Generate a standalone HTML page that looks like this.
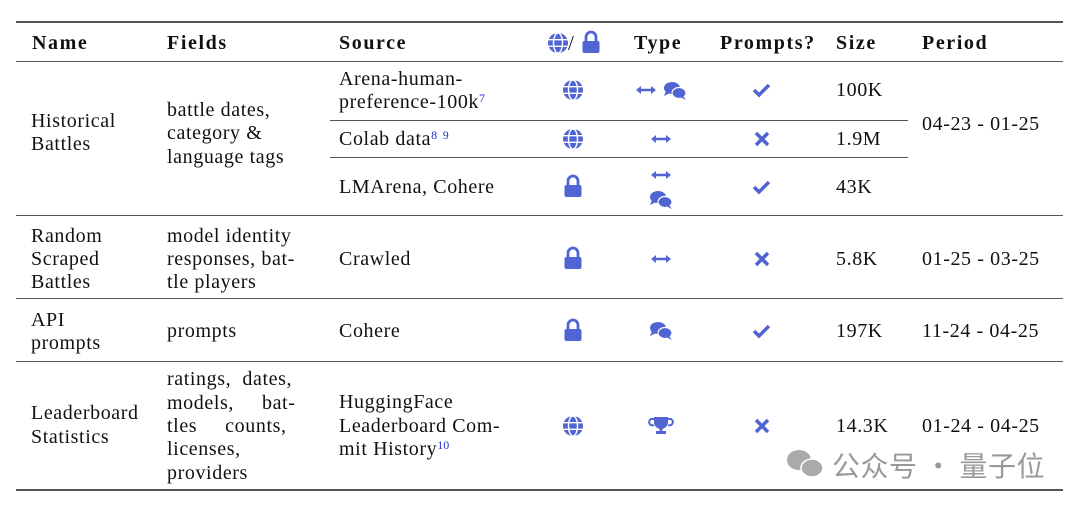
<!DOCTYPE html>
<html><head><meta charset="utf-8"><style>
body{margin:0;width:1080px;height:508px;background:#fff;position:relative;overflow:hidden;font-family:"Liberation Serif",serif;font-size:20px;letter-spacing:0.6px;color:#111}
.t{position:absolute;line-height:22px;white-space:nowrap}
.b{font-weight:bold;letter-spacing:1.6px}
.l{position:absolute;background:#555;height:1px}
sup{color:#2233cc;font-size:12px;vertical-align:6px;line-height:0;letter-spacing:0}
svg{position:absolute}
.wm{position:absolute;font-family:"Noto Sans CJK SC",sans-serif;color:#999;font-size:28px;letter-spacing:0.5px;left:832px;top:445px}
</style></head><body>
<div class="l" style="left:16px;width:1047px;top:21px;height:2px"></div>
<div class="l" style="left:16px;width:1047px;top:61px"></div>
<div class="l" style="left:330px;width:578px;top:120px"></div>
<div class="l" style="left:330px;width:578px;top:157px"></div>
<div class="l" style="left:16px;width:1047px;top:215px"></div>
<div class="l" style="left:16px;width:1047px;top:298px"></div>
<div class="l" style="left:16px;width:1047px;top:361px"></div>
<div class="l" style="left:16px;width:1047px;top:489px;height:2px"></div>

<div class="t b" style="left:32px;top:32px">Name</div>
<div class="t b" style="left:167px;top:32px">Fields</div>
<div class="t b" style="left:339px;top:32px">Source</div>
<div class="t" style="left:568px;top:32px;font-size:21px">/</div>
<div class="t b" style="left:634px;top:32px">Type</div>
<div class="t b" style="left:720px;top:32px">Prompts?</div>
<div class="t b" style="left:836px;top:32px">Size</div>
<div class="t b" style="left:922px;top:32px">Period</div>

<div class="t" style="left:31px;top:110px">Historical</div>
<div class="t" style="left:31px;top:133px">Battles</div>
<div class="t" style="left:167px;top:99px">battle dates,</div>
<div class="t" style="left:167px;top:122px">category &amp;</div>
<div class="t" style="left:167px;top:146px">language tags</div>
<div class="t" style="left:339px;top:68px">Arena-human-</div>
<div class="t" style="left:339px;top:91px">preference-100k<sup>7</sup></div>
<div class="t" style="left:339px;top:128px">Colab data<sup>8</sup> <sup>9</sup></div>
<div class="t" style="left:339px;top:176px">LMArena, Cohere</div>
<div class="t" style="left:836px;top:79px">100K</div>
<div class="t" style="left:836px;top:128px">1.9M</div>
<div class="t" style="left:836px;top:176px">43K</div>
<div class="t" style="left:922px;top:113px">04-23 - 01-25</div>

<div class="t" style="left:31px;top:225px">Random</div>
<div class="t" style="left:31px;top:248px">Scraped</div>
<div class="t" style="left:31px;top:271px">Battles</div>
<div class="t" style="left:167px;top:225px">model identity</div>
<div class="t" style="left:167px;top:248px">responses, bat-</div>
<div class="t" style="left:167px;top:271px">tle players</div>
<div class="t" style="left:339px;top:248px">Crawled</div>
<div class="t" style="left:836px;top:248px">5.8K</div>
<div class="t" style="left:922px;top:248px">01-25 - 03-25</div>

<div class="t" style="left:31px;top:309px">API</div>
<div class="t" style="left:31px;top:332px">prompts</div>
<div class="t" style="left:167px;top:320px">prompts</div>
<div class="t" style="left:339px;top:320px">Cohere</div>
<div class="t" style="left:836px;top:320px">197K</div>
<div class="t" style="left:922px;top:320px">11-24 - 04-25</div>

<div class="t" style="left:31px;top:402px">Leaderboard</div>
<div class="t" style="left:31px;top:426px">Statistics</div>
<div class="t" style="left:167px;top:368px">ratings,&nbsp; dates,</div>
<div class="t" style="left:167px;top:392px">models,&nbsp;&nbsp;&nbsp;&nbsp; bat-</div>
<div class="t" style="left:167px;top:415px">tles&nbsp;&nbsp;&nbsp;&nbsp; counts,</div>
<div class="t" style="left:167px;top:438px">licenses,</div>
<div class="t" style="left:167px;top:462px">providers</div>
<div class="t" style="left:339px;top:391px">HuggingFace</div>
<div class="t" style="left:339px;top:415px">Leaderboard Com-</div>
<div class="t" style="left:339px;top:438px">mit History<sup>10</sup></div>
<div class="t" style="left:836px;top:415px">14.3K</div>
<div class="t" style="left:922px;top:415px">01-24 - 04-25</div>

<svg width="1080" height="508" style="left:0;top:0">
<defs>
<g id="globe"><circle r="10" fill="#5065d3"/><g stroke="#fff" stroke-width="1.4" fill="none"><ellipse rx="4.5" ry="10"/><line x1="-10" y1="-3.3" x2="10" y2="-3.3"/><line x1="-10" y1="3.3" x2="10" y2="3.3"/></g></g>
<g id="lock"><path d="M-5,-2 v-4 a5,5 0 0 1 10,0 v4" stroke="#5065d3" stroke-width="2.8" fill="none"/><rect x="-8.5" y="-2" width="17" height="12" rx="2" fill="#5065d3"/></g>
<g id="arr" stroke="#5065d3" stroke-width="2.5" fill="#5065d3"><line x1="-7" y1="0" x2="7" y2="0"/><path d="M-10,0 l5,-4 v8z M10,0 l-5,-4 v8z" stroke="none"/></g>
<g id="chat" fill="#5065d3"><ellipse cx="-3" cy="-2" rx="8" ry="6"/><path d="M-9,1 l-2,5 l6,-3z"/><ellipse cx="4" cy="3" rx="7" ry="5.5" stroke="#fff" stroke-width="1.2"/><path d="M8,6 l3,4 l-6,-3z"/></g>
<g id="chk"><path d="M-8,0 l5,5 l10,-10" stroke="#5065d3" stroke-width="3.5" fill="none"/></g>
<g id="x"><path d="M-6,-6 L6,6 M6,-6 L-6,6" stroke="#5065d3" stroke-width="3.5"/></g>
<g id="cup" fill="#5065d3"><path d="M-7,-8 h14 v5 a7,7 0 0 1 -14,0z"/><path d="M-7,-6 h-3 a3,3 0 0 0 3,6 M7,-6 h3 a3,3 0 0 1 -3,6" stroke="#5065d3" stroke-width="2" fill="none"/><rect x="-1.5" y="3" width="3" height="4"/><rect x="-5" y="6" width="10" height="3"/></g>
</defs>
<use href="#globe" x="558" y="43"/><use href="#lock" x="591" y="43"/>
<use href="#globe" x="573" y="90"/><use href="#arr" x="646" y="90"/><use href="#chat" x="675" y="90"/><use href="#chk" x="762" y="90"/>
<use href="#globe" x="573" y="139"/><use href="#arr" x="661" y="139"/><use href="#x" x="762" y="139"/>
<use href="#lock" x="573" y="187"/><use href="#arr" x="661" y="175"/><use href="#chat" x="661" y="199"/><use href="#chk" x="762" y="187"/>
<use href="#lock" x="573" y="259"/><use href="#arr" x="661" y="259"/><use href="#x" x="762" y="259"/>
<use href="#lock" x="573" y="331"/><use href="#chat" x="661" y="330"/><use href="#chk" x="762" y="331"/>
<use href="#globe" x="573" y="426"/><use href="#cup" x="661" y="425"/><use href="#x" x="762" y="426"/>
<g fill="#aaa"><ellipse cx="799" cy="460" rx="12" ry="10"/><ellipse cx="812" cy="468" rx="11" ry="9" stroke="#fff" stroke-width="1.5"/></g>
</svg>
<div class="wm">公众号 · 量子位</div>
</body></html>
